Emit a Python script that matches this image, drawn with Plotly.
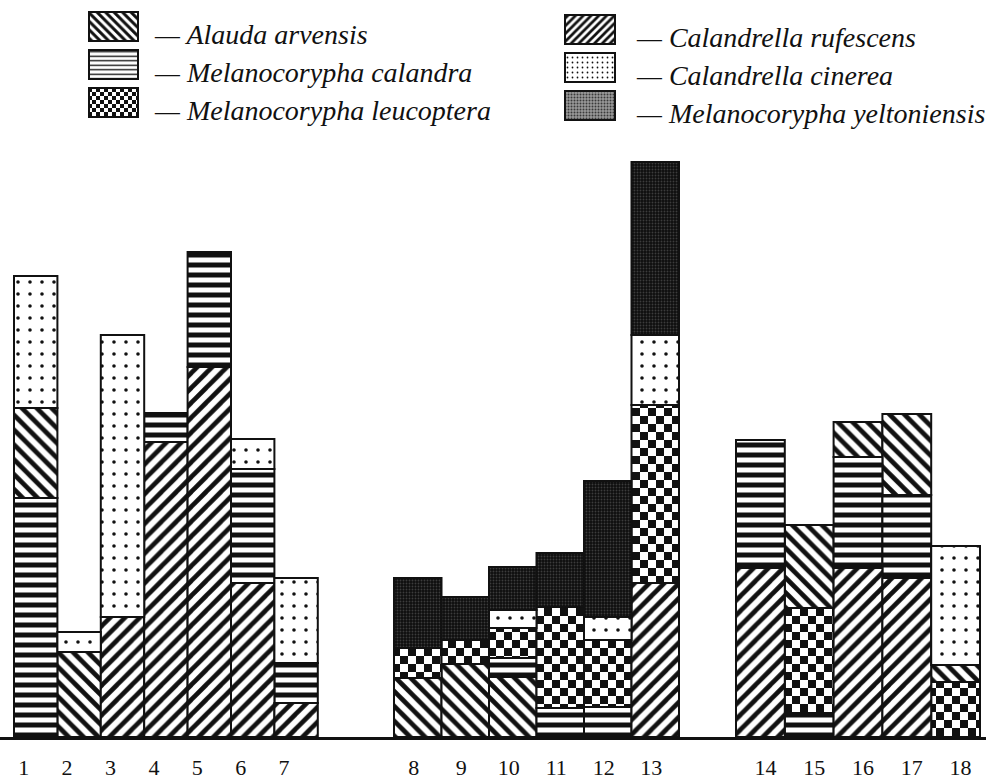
import plotly.graph_objects as go

# ---- data -------------------------------------------------------------
bar_labels = [str(i) for i in range(1, 19)]
group_sizes = [7, 6, 5]

species = [
    "Alauda arvensis",
    "Melanocorypha calandra",
    "Melanocorypha leucoptera",
    "Calandrella rufescens",
    "Calandrella cinerea",
    "Melanocorypha yeltoniensis",
]

alauda_arvensis = [9.0, 8.5, 0, 0, 0, 0, 0, 5.9, 7.3, 6.0, 0, 0, 0, 0, 8.3, 3.5, 8.1, 1.7]
melanocorypha_calandra = [23.9, 0, 0, 2.9, 11.5, 11.4, 4.0, 0, 0, 1.9, 2.9, 3.0, 0, 12.8, 2.4, 11.1, 8.3, 0]
melanocorypha_leucoptera = [0, 0, 0, 0, 0, 0, 0, 3.0, 2.4, 3.0, 10.1, 6.7, 17.8, 0, 10.5, 0, 0, 5.5]
calandrella_rufescens = [0, 0, 12.0, 29.5, 37.0, 15.4, 3.4, 0, 0, 0, 0, 0, 15.4, 16.9, 0, 16.9, 15.9, 0]
calandrella_cinerea = [13.2, 2.0, 28.2, 0, 0, 3.0, 8.5, 0, 0, 1.8, 0, 2.3, 7.0, 0, 0, 0, 0, 11.9]
melanocorypha_yeltoniensis = [0, 0, 0, 0, 0, 0, 0, 7.0, 4.3, 4.3, 5.4, 13.6, 17.3, 0, 0, 0, 0, 0]

values = {
    "A": alauda_arvensis,
    "C": melanocorypha_calandra,
    "L": melanocorypha_leucoptera,
    "R": calandrella_rufescens,
    "N": calandrella_cinerea,
    "Y": melanocorypha_yeltoniensis,
}
keys = ["A", "C", "L", "R", "N", "Y"]

# order of the segments inside every column, bottom to top
stack_order = [
    "CAN", "AN", "RN", "RC", "RC", "RCN", "RCN",
    "ALY", "ALY", "ACLNY", "CLY", "CLNY", "RLNY",
    "RC", "CLA", "RCA", "RCA", "LAN",
]

# ---- layout geometry ---------------------------------------------------
W, H = 986, 780
BOTTOM = 43
PLOT_H = H - BOTTOM
Y_UNIT_PX = 10.0                      # pixels per data unit
group_start = [14, 394, 736]
group_width = [43.4, 47.5, 48.8]
label_shift = [-12, -4, 5]

centers, widths, tick_pos = [], [], []
for g, n in enumerate(group_sizes):
    for i in range(n):
        c = group_start[g] + group_width[g] * (i + 0.5)
        centers.append(c)
        widths.append(group_width[g])
        tick_pos.append(c + label_shift[g])

# cumulative bases following each column's own stacking order
bases = {k: [0.0] * len(bar_labels) for k in keys}
for b, order in enumerate(stack_order):
    acc = 0.0
    for k in order:
        bases[k][b] = acc
        acc += values[k][b]

# ---- styles --------------------------------------------------------------
INK = "#111111"
bar_style = {
    "A": dict(shape="\\", size=10.5, solidity=0.45, bgcolor="white", fgcolor=INK),
    "C": dict(shape="-", size=10, solidity=0.5, bgcolor="white", fgcolor=INK),
    "L": dict(shape="+", size=8, solidity=0.5, bgcolor="white", fgcolor=INK),
    "R": dict(shape="/", size=10.5, solidity=0.45, bgcolor="white", fgcolor=INK),
    "N": dict(shape=".", size=12, solidity=0.07, bgcolor="white", fgcolor=INK),
    "Y": dict(shape=".", size=3, solidity=0.3, bgcolor="#0e0e0e", fgcolor="#3c3c3c"),
}
key_style = {
    "A": dict(shape="\\", size=6, solidity=0.5, bgcolor="white", fgcolor=INK),
    "C": dict(shape="-", size=4.5, solidity=0.3, bgcolor="white", fgcolor=INK),
    "L": dict(shape="+", size=4, solidity=0.5, bgcolor="white", fgcolor=INK),
    "R": dict(shape="/", size=5.5, solidity=0.5, bgcolor="white", fgcolor=INK),
    "N": dict(shape=".", size=5, solidity=0.1, bgcolor="white", fgcolor=INK),
    "Y": dict(shape=".", size=3, solidity=0.35, bgcolor="#9a9a9a", fgcolor="#3a3a3a"),
}

fig = go.Figure()

# stacked columns
for k, name in zip(keys, species):
    idx = [i for i, v in enumerate(values[k]) if v > 0]
    st = bar_style[k]
    fig.add_trace(go.Bar(
        x=[centers[i] for i in idx],
        y=[values[k][i] for i in idx],
        base=[bases[k][i] for i in idx],
        width=[widths[i] for i in idx],
        name=name,
        meta="checker-bar" if k == "L" else None,
        marker=dict(color=st["bgcolor"], line=dict(color=INK, width=2),
                    pattern=dict(shape=st["shape"], size=st["size"],
                                 solidity=st["solidity"], bgcolor=st["bgcolor"],
                                 fgcolor=st["fgcolor"], fillmode="replace")),
        showlegend=False,
        hoverinfo="skip",
    ))

# key: two columns of three swatches, drawn on a pixel-based overlay axis
key_cols = [dict(x0=89, x1=138, top=12, text_x=152),
            dict(x0=565, x1=615, top=15, text_x=634)]
ROW_STEP = 38
SW_H = 29
annotations = []
for j, (k, name) in enumerate(zip(keys, species)):
    col = key_cols[j // 3]
    row = j % 3
    top = col["top"] + row * ROW_STEP
    st = key_style[k]
    fig.add_trace(go.Bar(
        x=[(col["x0"] + col["x1"]) / 2], y=[SW_H], base=[top],
        width=[col["x1"] - col["x0"]], yaxis="y2",
        meta="checker-key" if k == "L" else None,
        marker=dict(color=st["bgcolor"], line=dict(color=INK, width=2),
                    pattern=dict(shape=st["shape"], size=st["size"],
                                 solidity=st["solidity"], bgcolor=st["bgcolor"],
                                 fgcolor=st["fgcolor"], fillmode="replace")),
        showlegend=False, hoverinfo="skip",
    ))
    annotations.append(dict(
        x=col["text_x"], y=top + SW_H / 2 + 8, xref="x", yref="y2",
        xanchor="left", yanchor="middle", showarrow=False,
        text="— " + name,
        font=dict(family="Liberation Serif", size=28, color=INK, style="italic"),
    ))

fig.update_layout(
    width=W, height=H, autosize=False,
    margin=dict(l=0, r=0, t=0, b=BOTTOM, pad=0),
    paper_bgcolor="white", plot_bgcolor="rgba(0,0,0,0)",
    barmode="overlay",
    showlegend=False,
    annotations=annotations,
    xaxis=dict(range=[0, W], showgrid=False, zeroline=False,
               tickmode="array", tickvals=tick_pos, ticktext=bar_labels,
               ticks="", showline=True, linecolor=INK, linewidth=2.5,
               tickfont=dict(family="Liberation Serif", size=22, color=INK),
               ticklabelstandoff=9, automargin=False, fixedrange=True),
    yaxis=dict(range=[0, PLOT_H / Y_UNIT_PX], visible=False, fixedrange=True),
    yaxis2=dict(range=[PLOT_H, 0], overlaying="y", visible=False, fixedrange=True),
)

# checkerboard fill for the M. leucoptera segments
checker_js = """
var gd = document.getElementById('{plot_id}');
var NS = 'http://www.w3.org/2000/svg';
var svg = gd.querySelector('svg.main-svg');
var defs = svg.querySelector('defs');
if (!defs) { defs = document.createElementNS(NS, 'defs'); svg.insertBefore(defs, svg.firstChild); }
function addChecker(id, cell) {
  var p = document.createElementNS(NS, 'pattern');
  p.setAttribute('id', id);
  p.setAttribute('patternUnits', 'userSpaceOnUse');
  p.setAttribute('width', 2 * cell);
  p.setAttribute('height', 2 * cell);
  var bg = document.createElementNS(NS, 'rect');
  bg.setAttribute('width', 2 * cell); bg.setAttribute('height', 2 * cell);
  bg.setAttribute('fill', '#ffffff');
  p.appendChild(bg);
  [[0, 0], [cell, cell]].forEach(function (o) {
    var r = document.createElementNS(NS, 'rect');
    r.setAttribute('x', o[0]); r.setAttribute('y', o[1]);
    r.setAttribute('width', cell); r.setAttribute('height', cell);
    r.setAttribute('fill', '#111111');
    p.appendChild(r);
  });
  defs.appendChild(p);
}
addChecker('checker-bar', 8);
addChecker('checker-key', 4);
gd.querySelectorAll('g.trace.bars').forEach(function (g) {
  var cd = g.__data__;
  if (!cd || !cd[0] || !cd[0].trace) return;
  var m = cd[0].trace.meta;
  if (m === 'checker-bar' || m === 'checker-key') {
    g.querySelectorAll('path').forEach(function (p) { p.style.fill = 'url(#' + m + ')'; });
  }
});
"""

fig.write_html("out.html", post_script=checker_js)
